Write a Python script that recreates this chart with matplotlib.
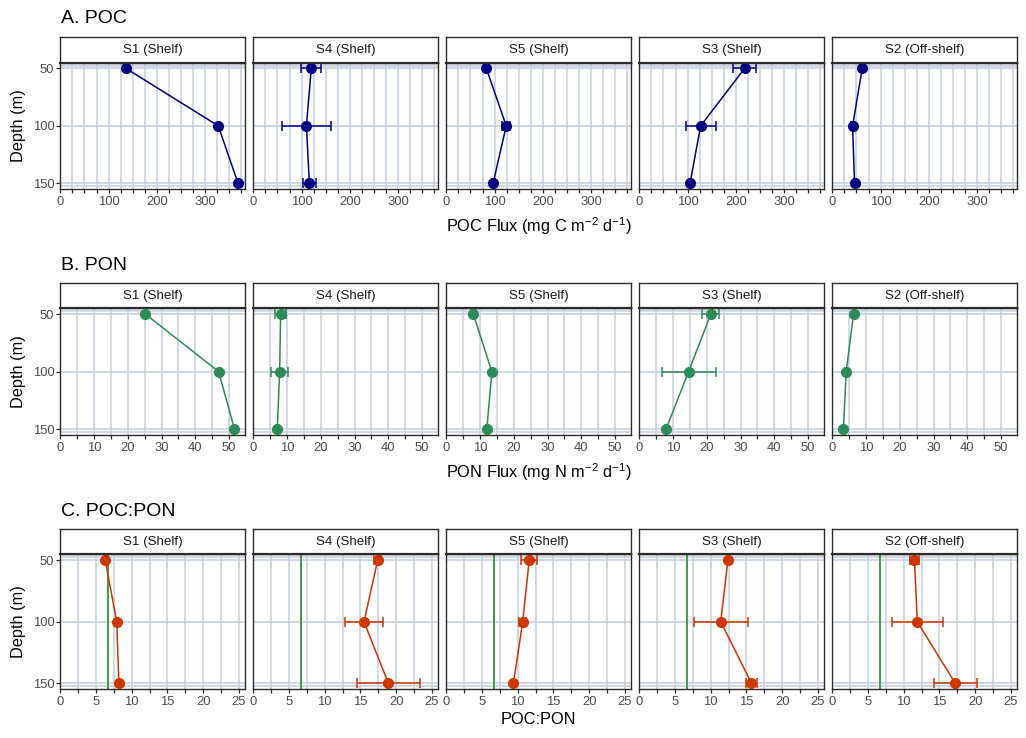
import matplotlib
matplotlib.use('Agg')
import matplotlib.pyplot as plt
import numpy as np

plt.rcParams['font.family'] = ['Liberation Sans', 'DejaVu Sans']
plt.rcParams['mathtext.fontset'] = 'custom'
plt.rcParams['mathtext.rm'] = 'Liberation Sans'
plt.rcParams['mathtext.it'] = 'Liberation Sans:italic'
plt.rcParams['mathtext.default'] = 'regular'

# ---------------- data ----------------
stations = ["S1 (Shelf)", "S4 (Shelf)", "S5 (Shelf)", "S3 (Shelf)", "S2 (Off-shelf)"]
depths = [50, 100, 150]

poc_mean = [[136, 327, 368], [120, 110, 116], [83, 124, 97], [218, 127, 105], [62, 42, 46]]
poc_sd = [[0, 0, 0], [21, 50, 13], [3, 8, 3], [24, 31, 3], [3, 3, 2]]

pon_mean = [[25.2, 46.9, 51.6], [8.1, 7.8, 7.1], [8.0, 13.5, 12.0], [21.2, 14.6, 7.9], [6.3, 4.1, 3.3]]
pon_sd = [[0, 0, 0], [1.7, 2.5, 0.5], [0.8, 0.3, 0.3], [2.5, 8.0, 0.3], [0.2, 0.2, 0.2]]

ratio_mean = [[6.3, 7.9, 8.2], [17.4, 15.5, 18.9], [11.6, 10.7, 9.4], [12.4, 11.4, 15.7], [11.5, 11.9, 17.2]]
ratio_sd = [[0, 0, 0], [0.45, 2.65, 4.4], [1.15, 0.5, 0], [0, 3.75, 0.8], [0.65, 3.6, 3.0]]

redfield = 6.625

# ---------------- layout ----------------
W, H = 1026, 738
fig = plt.figure(figsize=(W / 100, H / 100), dpi=100)


def rect(l, t, w, h):
    return [l / W, 1 - (t + h) / H, w / W, h / H]


rows = [
    dict(title="A. POC", xlabel=r"POC Flux (mg C m$^{-2}$ d$^{-1}$)", mean=poc_mean, sd=poc_sd,
         color="#000080", xmax=383, minor=25, major=100, strip_top=37, panel_top=62.7,
         panel_bot=189, title_y=18.3, xlabel_y=226.5, ref=False),
    dict(title="B. PON", xlabel=r"PON Flux (mg N m$^{-2}$ d$^{-1}$)", mean=pon_mean, sd=pon_sd,
         color="#2E8B57", xmax=54.8, minor=5, major=10, strip_top=283.3, panel_top=308.3,
         panel_bot=435, title_y=265, xlabel_y=472, ref=False),
    dict(title="C. POC:PON", xlabel="POC:PON", mean=ratio_mean, sd=ratio_sd,
         color="#CD3700", xmax=25.9, minor=2.5, major=5, strip_top=529.3, panel_top=554.3,
         panel_bot=689.3, title_y=511, xlabel_y=719, ref=True),
]

gridc = "#C8D1E2"
spinec = "#2B2B2B"
tickc = "#4D4D4D"
left0, step, pw = 60.3, 193.0, 185.0

for row in rows:
    ph = row["panel_bot"] - row["panel_top"]
    for i, st in enumerate(stations):
        left = left0 + i * step
        ax = fig.add_axes(rect(left, row["panel_top"], pw, ph))
        ax.set_xlim(0, row["xmax"])
        ax.set_ylim(155, 45)
        xt = np.arange(0, row["xmax"], row["minor"])
        ax.set_xticks(xt)
        labs = []
        for v in xt:
            r = v / row["major"]
            labs.append(f"{v:g}" if abs(r - round(r)) < 1e-6 else "")
        ax.set_xticklabels(labs)
        ax.set_yticks(depths)
        ax.grid(True, color=gridc, lw=1.2, zorder=0)
        ax.set_axisbelow(True)
        for yy in (47.5, 152.5):
            ax.axhline(yy, color=gridc, lw=1.2, zorder=0.5)
        for s in ax.spines.values():
            s.set_color(spinec)
            s.set_linewidth(1.0)
        ax.tick_params(axis='x', length=2.8, width=0.9, color=spinec, labelsize=9.4,
                       labelcolor=tickc, pad=2.2)
        ax.tick_params(axis='y', length=2.8, width=0.9, color=spinec, labelsize=9.4,
                       labelcolor=tickc, pad=1.5)
        if i > 0:
            ax.tick_params(axis='y', length=0, labelleft=False)
        if row["ref"]:
            ax.axvline(redfield, color="#3E9E3E", lw=1.4, zorder=2)
        m = row["mean"][i]
        sd = row["sd"][i]
        c = row["color"]
        ax.plot(m, depths, color=c, lw=1.1, zorder=3)
        ax.errorbar(m, depths, xerr=sd, fmt='none', ecolor=c, elinewidth=1.1,
                    capsize=3.6, capthick=1.1, zorder=3)
        ax.plot(m, depths, 'o', ms=7, color=c, mec=c, zorder=4)

        sax = fig.add_axes(rect(left, row["strip_top"], pw, row["panel_top"] - row["strip_top"]))
        sax.set_xticks([])
        sax.set_yticks([])
        sax.set_facecolor("white")
        for s in sax.spines.values():
            s.set_color(spinec)
            s.set_linewidth(1.0)
        sax.spines['bottom'].set_linewidth(1.6)
        sax.text(0.5, 0.5, st, ha='center', va='center', fontsize=9.6, color="#1A1A1A",
                 transform=sax.transAxes)

    fig.text(61 / W, 1 - row["title_y"] / H, row["title"], ha='left', va='center',
             fontsize=14, color='black')
    fig.text(538.5 / W, 1 - row["xlabel_y"] / H, row["xlabel"], ha='center', va='center',
             fontsize=11.8, color='black')
    mid = row["panel_top"] + ph / 2
    fig.text(18.5 / W, 1 - mid / H, "Depth (m)", ha='center', va='center', rotation=90,
             fontsize=11.8, color='black')

fig.savefig("out.png", dpi=100, facecolor="white")
